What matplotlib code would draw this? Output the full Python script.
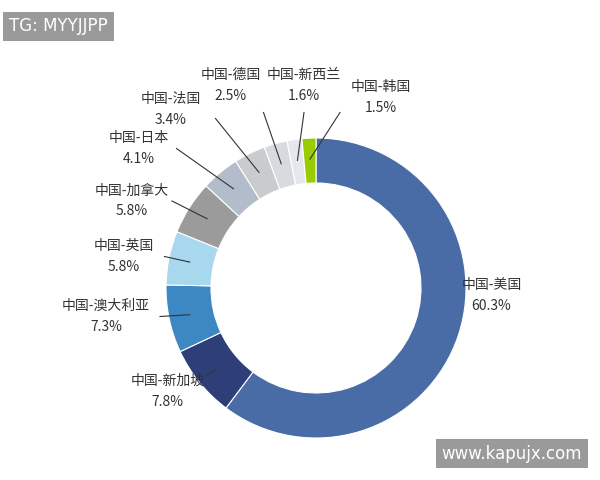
import matplotlib
matplotlib.use("Agg")
import matplotlib.pyplot as plt
import numpy as np

plt.rcParams['font.family'] = ['Noto Sans CJK SC', 'DejaVu Sans']

labels = ["中国-美国", "中国-新加坡", "中国-澳大利亚", "中国-英国", "中国-加拿大",
          "中国-日本", "中国-法国", "中国-德国", "中国-新西兰", "中国-韩国"]
values = [60.3, 7.8, 7.3, 5.8, 5.8, 4.1, 3.4, 2.5, 1.6, 1.5]
colors = ["#4A6CA6", "#2D3E78", "#3D88C2", "#A8D8EE", "#9B9B9B",
          "#B3BCCB", "#C9CBCC", "#D7DBE0", "#E4E8EE", "#99CC00"]
label_pos = [(1.17, -0.05), (-0.99, -0.69), (-1.40, -0.19), (-1.28, 0.21), (-1.23, 0.58),
             (-1.18, 0.93), (-0.97, 1.19), (-0.57, 1.35), (-0.08, 1.35), (0.43, 1.27)]
leader_offset = [None, (0.26, 0.11), (0.36, 0.0), (0.27, 0.0), (0.27, 0.0),
                 (0.25, 0.0), (0.30, -0.06), (0.22, -0.18), (0.0, -0.18), (-0.27, -0.1)]

fig = plt.figure(figsize=(6, 4.8), dpi=100)
ax = fig.add_axes([0, 0, 1, 1])
wedges, _ = ax.pie(values, colors=colors, startangle=90, counterclock=False,
                   radius=1.0, wedgeprops=dict(width=0.3, edgecolor="white", linewidth=0.8))
ax.set_xlim(-316/150, 284/150)
ax.set_ylim(-192/150, 288/150)
ax.set_aspect('equal')
ax.axis('off')

for w, lab, v, (tx, ty), off in zip(wedges, labels, values, label_pos, leader_offset):
    ang = np.deg2rad((w.theta1 + w.theta2) / 2)
    ax.text(tx, ty, f"{lab}\n{v:.1f}%", ha='center', va='center', fontsize=10,
            color="#333333", linespacing=1.6)
    if off is None:
        continue
    px, py = 0.86*np.cos(ang), 0.86*np.sin(ang)
    ax.plot([tx + off[0], px], [ty + off[1], py], color="#333333", lw=0.8)

fig.text(0.015, 0.945, "TG: MYYJJPP", fontsize=12, color="white", va='center', ha='left',
         bbox=dict(boxstyle="square,pad=0.35", fc="#9A9A9A", ec="none"), family=['DejaVu Sans'])
fig.text(0.97, 0.055, "www.kapujx.com", fontsize=12, color="white", va='center', ha='right',
         bbox=dict(boxstyle="square,pad=0.35", fc="#9A9A9A", ec="none"), family=['DejaVu Sans'])

fig.savefig("out.png", dpi=100, facecolor="white")
